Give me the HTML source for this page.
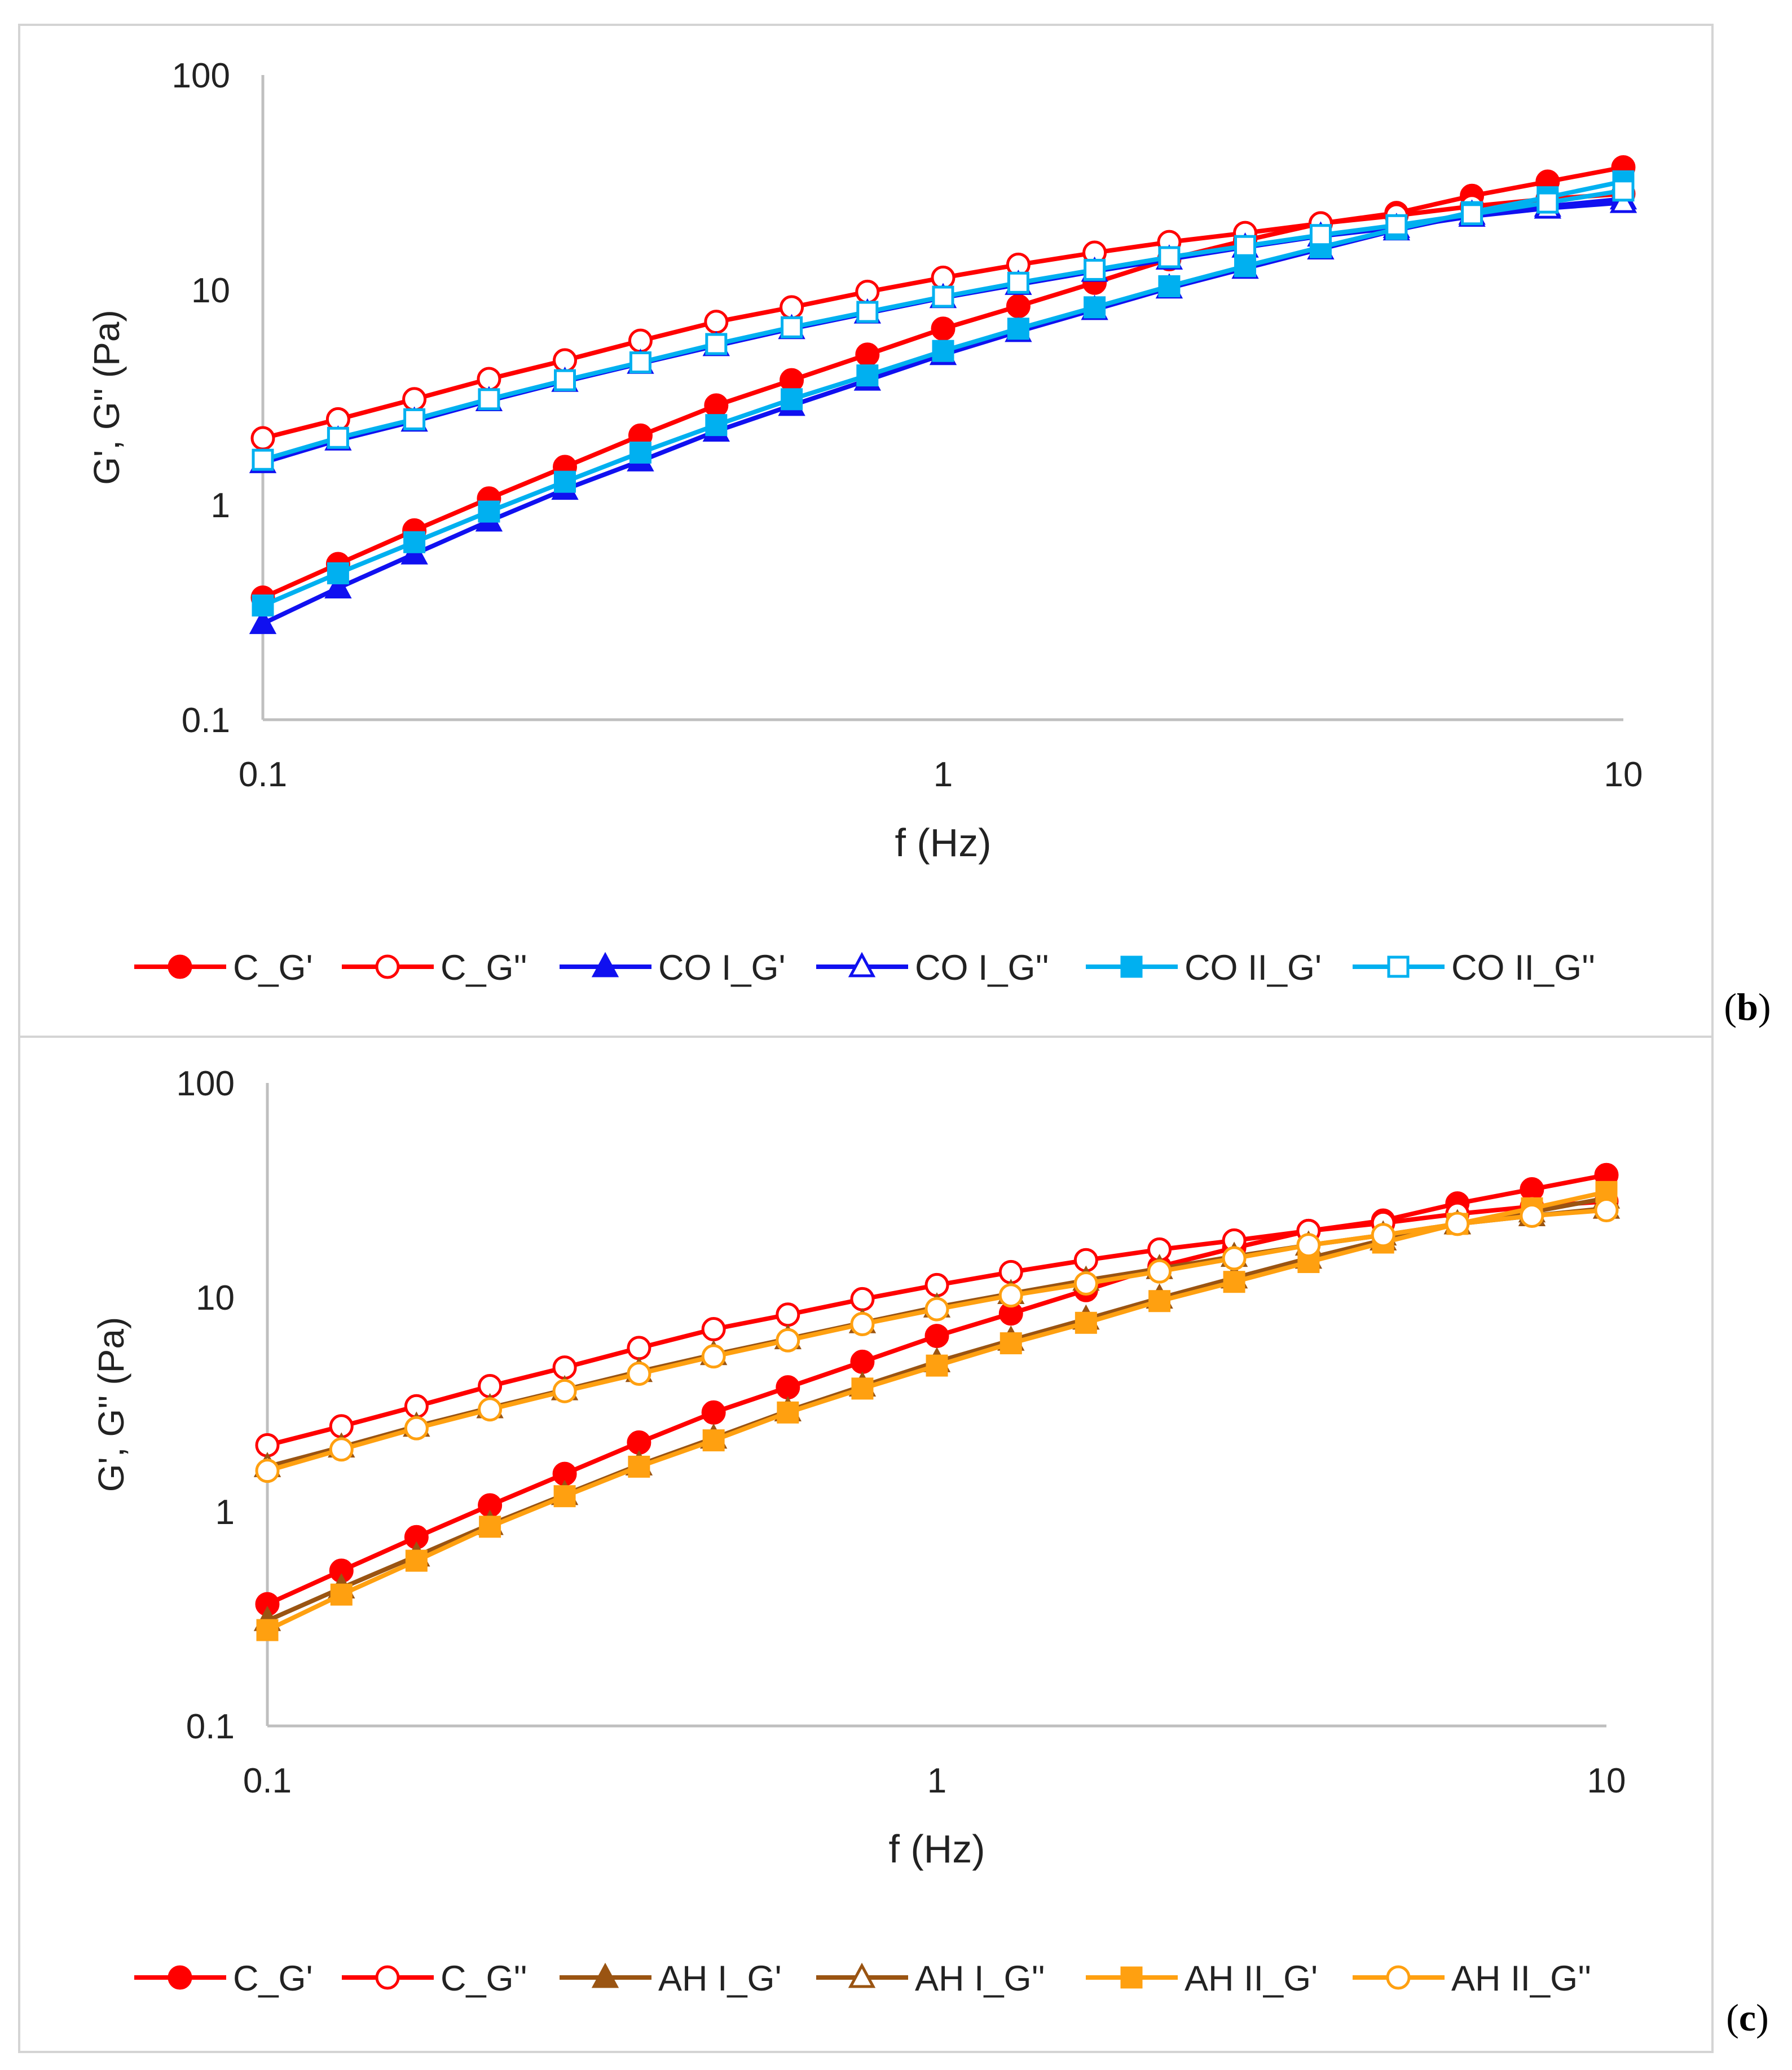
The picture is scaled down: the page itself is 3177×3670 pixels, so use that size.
<!DOCTYPE html>
<html><head><meta charset="utf-8"><style>
html,body{margin:0;padding:0;background:#fff;}
svg{display:block;font-family:"Liberation Sans",sans-serif;}
</style></head><body>
<svg id="chart" width="3177" height="3670" viewBox="0 0 3177 3670" xmlns="http://www.w3.org/2000/svg">
<rect x="0" y="0" width="3177" height="3670" fill="#fff"/>
<rect x="34" y="44" width="3002" height="1794" fill="none" stroke="#d4d4d4" stroke-width="4"/>
<rect x="34" y="1838" width="3002" height="1800" fill="none" stroke="#d4d4d4" stroke-width="4"/>
<text x="3098" y="1808" font-family="Liberation Serif,serif" font-size="68" text-anchor="middle">(<tspan font-weight="bold">b</tspan>)</text>
<text x="3098" y="3600" font-family="Liberation Serif,serif" font-size="68" text-anchor="middle">(<tspan font-weight="bold">c</tspan>)</text>
</svg>
<script>
const freqs = [0.1,0.129,0.167,0.215,0.278,0.359,0.464,0.599,0.774,1,1.29,1.67,2.15,2.78,3.59,4.64,5.99,7.74,10];
const xTicks = [0.1,1,10];
const xTickLabels = ["0.1","1","10"];
const yTicks = [0.1,1,10,100];
const yTickLabels = ["0.1","1","10","100"];
const cGp  = [0.37,0.53,0.76,1.07,1.5,2.1,2.9,3.8,5.0,6.6,8.4,10.8,13.9,17,20.4,22.8,27.4,31.9,37.2];
const cGpp = [2.04,2.5,3.1,3.85,4.7,5.8,7.1,8.3,9.8,11.4,13.1,14.9,16.7,18.4,20.4,22.2,24.5,26.5,28];
const co1Gp  = [0.28,0.41,0.59,0.84,1.18,1.6,2.2,2.9,3.8,5.0,6.4,8.1,10.2,12.6,15.5,19,22.5,24.5,26.5];
const co1Gpp = [1.57,2.0,2.45,3.05,3.75,4.55,5.5,6.6,7.8,9.2,10.6,12.2,13.9,15.8,17.8,19.5,22,24,25.5];
const co2Gp  = [0.34,0.48,0.67,0.93,1.28,1.75,2.35,3.1,4.0,5.2,6.6,8.3,10.4,12.9,15.8,19.2,23,27,32];
const co2Gpp = [1.62,2.05,2.5,3.1,3.8,4.6,5.6,6.7,7.9,9.3,10.8,12.4,14.2,16,18,20,22.5,25.5,29];
const ah1Gp  = [0.31,0.44,0.62,0.87,1.2,1.65,2.2,2.95,3.85,5.0,6.3,7.9,9.9,12.3,15.2,18.5,22,25,29];
const ah1Gpp = [1.62,2.0,2.5,3.05,3.7,4.5,5.4,6.4,7.6,9.0,10.4,12,13.6,15.5,17.5,19.5,22,24,26];
const ah2Gp  = [0.28,0.41,0.59,0.85,1.18,1.62,2.15,2.9,3.75,4.8,6.1,7.6,9.6,11.8,14.6,18,22,26,31];
const ah2Gpp = [1.55,1.95,2.45,3.0,3.65,4.4,5.3,6.3,7.5,8.8,10.2,11.6,13.2,15.2,17.5,19.5,22,24,25.5];
const seriesNamesB = ["C_G'","C_G''","CO I_G'","CO I_G''","CO II_G'","CO II_G''"];
const seriesNamesC = ["C_G'","C_G''","AH I_G'","AH I_G''","AH II_G'","AH II_G''"];

const NS="http://www.w3.org/2000/svg";
const svg=document.getElementById('chart');
function mk(tag,attrs,parent){const e=document.createElementNS(NS,tag);for(const k in attrs)e.setAttribute(k,attrs[k]);(parent||svg).appendChild(e);return e;}

function marker(g,shape,cx,cy,color,filled){
  const fill=filled?color:'#fff';
  let m;
  if(shape==='circle') m=mk('circle',{cx:cx,cy:cy,r:19,fill:fill,stroke:color,'stroke-width':5},g);
  else if(shape==='tri') m=mk('polygon',{points:`${cx},${cy-21} ${cx+20},${cy+16} ${cx-20},${cy+16}`,fill:fill,stroke:color,'stroke-width':5},g);
  else m=mk('rect',{x:cx-17,y:cy-17,width:34,height:34,fill:fill,stroke:color,'stroke-width':5},g);
  
  
}

function panel(id,ax,series,names,legendY){
  const g=mk('g',{});
  
  
  const X=v=>ax.x0+(Math.log10(v)+1)/2*(ax.x1-ax.x0);
  const Y=v=>ax.yb-(Math.log10(v)+1)/3*(ax.yb-ax.yt);
  const ya=mk('line',{x1:X(0.1),y1:Y(100),x2:X(0.1),y2:Y(0.1),stroke:'#bfbfbf','stroke-width':5},g);
  
  
  const xa=mk('line',{x1:X(0.1),y1:Y(0.1),x2:X(10),y2:Y(0.1),stroke:'#bfbfbf','stroke-width':5},g);
  
  
  yTicks.forEach((t,i)=>{const e=mk('text',{x:X(0.1)-58,y:Y(t)+22,'font-size':62,'text-anchor':'end',fill:'#222'},g);e.textContent=yTickLabels[i];
    
    });
  xTicks.forEach((t,i)=>{const e=mk('text',{x:X(t),y:Y(0.1)+118,'font-size':62,'text-anchor':'middle',fill:'#222'},g);e.textContent=xTickLabels[i];
    
    });
  const xt=mk('text',{x:(X(0.1)+X(10))/2,y:Y(0.1)+242,'font-size':70,'text-anchor':'middle',fill:'#222'},g);xt.textContent='f (Hz)';
  
  
  const yx=ax.x0-255, yy=(Y(100)+Y(0.1))/2;
  const yt=mk('text',{x:yx,y:yy,'font-size':64,'text-anchor':'middle',fill:'#222',transform:`rotate(-90 ${yx} ${yy})`},g);yt.textContent="G', G'' (Pa)";
  
  
  series.forEach(s=>{
    const sg=mk('g',{},g);
    
    
    const pts=freqs.map((f,i)=>X(f)+','+Y(s.data[i])).join(' ');
    const pl=mk('polyline',{points:pts,fill:'none',stroke:s.color,'stroke-width':8,'stroke-linejoin':'round'},sg);
    
    
    freqs.forEach((f,i)=>marker(sg,s.shape,X(f),Y(s.data[i]),s.color,s.filled));
  });
  const lx=[238,606,992,1447,1925,2398];
  const lg=mk('g',{},g);
  
  
  series.forEach((s,i)=>{
    const eg=mk('g',{},lg);
    
    
    const x=lx[i];
    mk('line',{x1:x,y1:legendY,x2:x+163,y2:legendY,stroke:s.color,'stroke-width':8},eg);
    marker(eg,s.shape,x+81,legendY,s.color,s.filled);
    const t=mk('text',{x:x+175,y:legendY+23,'font-size':63,fill:'#222'},eg);t.textContent=names[i];
  });
}
const RED='#ff0000',BLUE='#1010f0',LBLUE='#00b0f0',BROWN='#9a5412',ORANGE='#ffa010';
panel('panel-b',{x0:466,x1:2878,yt:133,yb:1276},[
  {name:seriesNamesB[0],data:cGp,color:RED,shape:'circle',filled:true},
  {name:seriesNamesB[1],data:cGpp,color:RED,shape:'circle',filled:false},
  {name:seriesNamesB[2],data:co1Gp,color:BLUE,shape:'tri',filled:true},
  {name:seriesNamesB[3],data:co1Gpp,color:BLUE,shape:'tri',filled:false},
  {name:seriesNamesB[4],data:co2Gp,color:LBLUE,shape:'sq',filled:true},
  {name:seriesNamesB[5],data:co2Gpp,color:LBLUE,shape:'sq',filled:false}
],seriesNamesB,1714);
panel('panel-c',{x0:474,x1:2848,yt:1920,yb:3060},[
  {name:seriesNamesC[0],data:cGp,color:RED,shape:'circle',filled:true},
  {name:seriesNamesC[1],data:cGpp,color:RED,shape:'circle',filled:false},
  {name:seriesNamesC[2],data:ah1Gp,color:BROWN,shape:'tri',filled:true},
  {name:seriesNamesC[3],data:ah1Gpp,color:BROWN,shape:'tri',filled:false},
  {name:seriesNamesC[4],data:ah2Gp,color:ORANGE,shape:'sq',filled:true},
  {name:seriesNamesC[5],data:ah2Gpp,color:ORANGE,shape:'circle',filled:false}
],seriesNamesC,3506);
</script>
</body></html>
